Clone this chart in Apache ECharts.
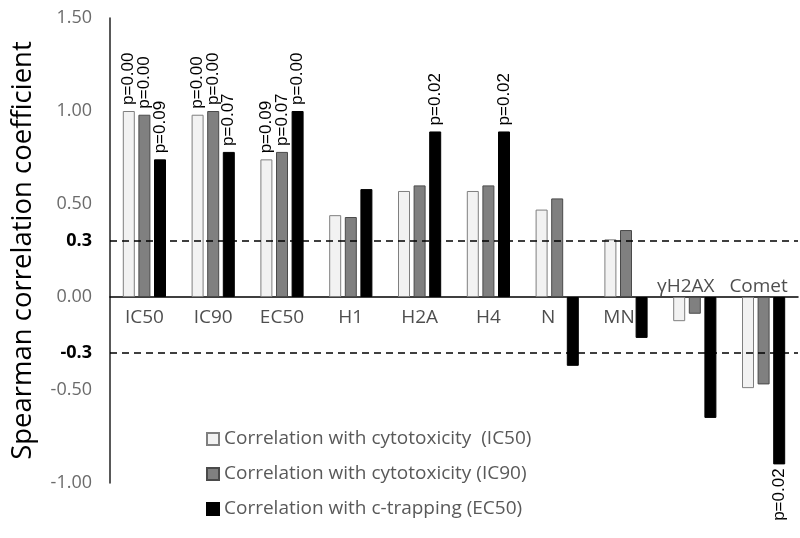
<!DOCTYPE html>
<html>
<head>
<meta charset="utf-8">
<script src="https://cdn.jsdelivr.net/npm/echarts@6/dist/echarts.min.js"></script>
<style>html,body{margin:0;padding:0;background:#fff}#c{width:800px;height:538px}</style>
</head>
<body>
<div id="c"></div>
<script>
const categories = ['IC50','IC90','EC50','H1','H2A','H4','N','MN','γH2AX','Comet'];
const seriesNames = ['Correlation with cytotoxicity  (IC50)','Correlation with cytotoxicity (IC90)','Correlation with c-trapping (EC50)'];
const corrIC50 = [1.00, 0.98, 0.74, 0.44, 0.57, 0.57, 0.47, 0.31, -0.13, -0.49];
const corrIC90 = [0.98, 1.00, 0.78, 0.43, 0.60, 0.60, 0.53, 0.36, -0.09, -0.47];
const corrEC50 = [0.74, 0.78, 1.00, 0.58, 0.89, 0.89, -0.37, -0.22, -0.65, -0.90];
const pIC50 = ['p=0.00','p=0.00','p=0.09','','','','','','',''];
const pIC90 = ['p=0.00','p=0.00','p=0.07','','','','','','',''];
const pEC50 = ['p=0.09','p=0.07','p=0.00','','p=0.02','p=0.02','','','','p=0.02'];
const yTickValues = [-1, -0.5, -0.3, 0, 0.3, 0.5, 1, 1.5];
const thresholds = [0.3, -0.3];

const FONT = '"Open Sans", sans-serif';
const chart = echarts.init(document.getElementById('c'), null, {renderer: 'canvas'});

function barData(vals, pv) {
  return vals.map((v, i) => {
    const neg = v < 0;
    return {
      value: v,
      label: pv[i] ? {
        show: true,
        formatter: pv[i],
        position: neg ? 'bottom' : 'top',
        rotate: 90,
        align: neg ? 'right' : 'left',
        verticalAlign: 'middle',
        distance: neg ? 4 : 6,
        fontFamily: '"Liberation Sans", Arial, sans-serif',
        fontSize: 17,
        color: '#000'
      } : {show: false}
    };
  });
}

const labelShift = {'N': -9, 'MN': -7, 'γH2AX': -9, 'Comet': -5};
const labelUp = {'γH2AX': true, 'Comet': true};

const option = {
  animation: false,
  grid: {left: 110, right: 2, top: 18, bottom: 55, containLabel: false},
  legend: {
    data: seriesNames,
    orient: 'vertical',
    left: 201,
    top: 423,
    itemWidth: 12,
    itemHeight: 12,
    itemGap: 13,
    icon: 'rect',
    textStyle: {fontFamily: FONT, fontSize: 19, color: '#595959', lineHeight: 22}
  },
  xAxis: {
    type: 'category',
    data: categories,
    axisLine: {show: true, onZero: true, lineStyle: {color: '#000', width: 1.5}},
    axisTick: {show: false},
    axisLabel: {show: false},
    splitLine: {show: false}
  },
  yAxis: {
    type: 'value',
    min: -1,
    max: 1.5,
    interval: 0.5,
    name: 'Spearman correlation coefficient',
    nameLocation: 'middle',
    nameGap: 73,
    nameTextStyle: {fontFamily: FONT, fontSize: 27.5, color: '#000'},
    axisLine: {show: true, lineStyle: {color: '#222', width: 1.5}},
    axisTick: {show: false},
    splitLine: {show: false},
    axisLabel: {
      customValues: yTickValues,
      margin: 18,
      fontFamily: FONT,
      fontSize: 18,
      color: '#6b6b6b',
      formatter: function (v) {
        if (Math.abs(Math.abs(v) - 0.3) < 1e-9) return '{b|' + v.toFixed(1) + '}';
        return v.toFixed(2);
      },
      rich: {b: {fontFamily: FONT, fontSize: 18, fontWeight: 'bold', color: '#000'}}
    }
  },
  series: [
    {
      name: seriesNames[0], type: 'bar', barWidth: 12, barGap: '30%',
      itemStyle: {color: '#f2f2f2', borderColor: '#7f7f7f', borderWidth: 1},
      data: barData(corrIC50, pIC50),
      markLine: {
        silent: true, symbol: 'none', label: {show: false},
        lineStyle: {color: '#000', width: 1.5, type: [7, 5]},
        data: thresholds.map(t => ({yAxis: t}))
      }
    },
    {
      name: seriesNames[1], type: 'bar', barWidth: 12, barGap: '30%',
      itemStyle: {color: '#808080', borderColor: '#4a4a4a', borderWidth: 1},
      data: barData(corrIC90, pIC90)
    },
    {
      name: seriesNames[2], type: 'bar', barWidth: 12, barGap: '30%',
      itemStyle: {color: '#000', borderColor: '#000', borderWidth: 1},
      data: barData(corrEC50, pEC50)
    },
    {
      name: 'categoryLabels', type: 'scatter', symbolSize: 0, silent: true,
      data: categories.map(c => ({
        value: [c, 0],
        label: {
          show: true,
          formatter: c,
          position: labelUp[c] ? 'top' : 'bottom',
          distance: labelUp[c] ? 1 : 11,
          offset: [labelShift[c] || 0, 0],
          fontFamily: FONT,
          fontSize: 19,
          color: '#222'
        }
      }))
    }
  ]
};
chart.setOption(option);
</script>
</body>
</html>
